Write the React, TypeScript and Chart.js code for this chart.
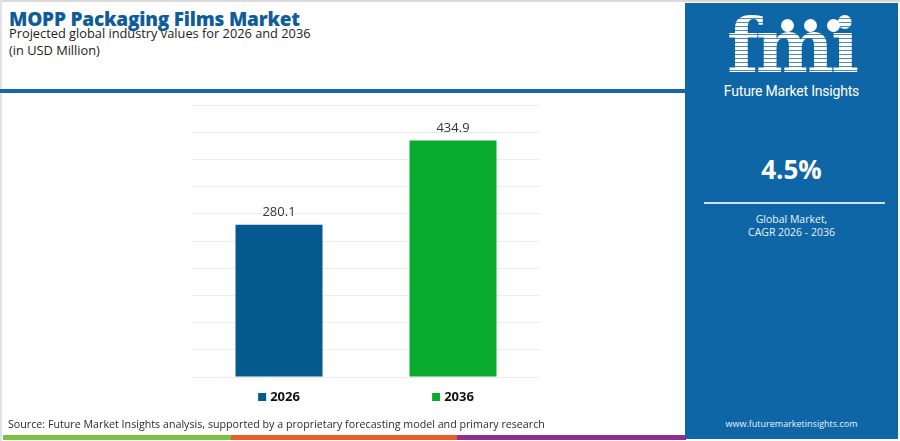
import { useEffect, useRef } from "react";
import { Chart, registerables } from "chart.js";

Chart.register(...registerables);

// chart data
const categories: string[] = ["2026", "2036"];
const marketValues: number[] = [280.1, 434.9];
const barColors: string[] = ["#04598f", "#08ab2e"];
const yAxisMax = 500;
const yAxisStep = 50;

const footerColors = ["#7cc142", "#ec5b2a", "#8f2f8f"];

const sansFont = "'Open Sans', 'DejaVu Sans', sans-serif";

const valueLabels = {
  id: "valueLabels",
  afterDatasetsDraw(chart: any) {
    const ctx = chart.ctx;
    const meta = chart.getDatasetMeta(0);
    ctx.save();
    ctx.font = `13px ${sansFont}`;
    ctx.fillStyle = "#333333";
    ctx.textAlign = "center";
    ctx.textBaseline = "middle";
    meta.data.forEach((bar: any, i: number) => {
      ctx.fillText(marketValues[i].toFixed(1), bar.x, bar.y - 12);
    });
    ctx.restore();
  },
};

const bottomLegend = {
  id: "bottomLegend",
  afterDraw(chart: any) {
    const ctx = chart.ctx;
    const xScale = chart.scales.x;
    const y = chart.chartArea.bottom + 20;
    ctx.save();
    ctx.font = `bold 13px ${sansFont}`;
    ctx.textBaseline = "middle";
    ctx.textAlign = "left";
    categories.forEach((cat, i) => {
      const cx = xScale.getPixelForValue(i);
      const tw = ctx.measureText(cat).width;
      const box = 8;
      const gap = 4;
      const start = cx - (box + gap + tw) / 2;
      ctx.fillStyle = barColors[i];
      ctx.fillRect(start, y - box / 2, box, box);
      ctx.fillStyle = "#111111";
      ctx.fillText(cat, start + box + gap, y + 0.5);
    });
    ctx.restore();
  },
};

function BarChart() {
  const canvasRef = useRef<HTMLCanvasElement | null>(null);

  useEffect(() => {
    if (!canvasRef.current) return;
    const chart = new Chart(canvasRef.current, {
      type: "bar",
      data: {
        labels: categories,
        datasets: [
          {
            label: "Market value",
            data: marketValues,
            backgroundColor: barColors,
            borderWidth: 0,
            barPercentage: 0.5,
            categoryPercentage: 1,
          },
        ],
      },
      options: {
        animation: false,
        responsive: true,
        maintainAspectRatio: false,
        layout: { padding: { left: 12, right: 12, top: 15, bottom: 43 } },
        plugins: {
          legend: { display: false },
          tooltip: { enabled: false },
        },
        scales: {
          x: { display: false },
          y: {
            display: true,
            min: 0,
            max: yAxisMax,
            ticks: { display: false, stepSize: yAxisStep },
            grid: { color: "#ececec", lineWidth: 1, drawTicks: false },
            border: { display: false },
          },
        },
      } as any,
      plugins: [valueLabels, bottomLegend],
    });
    return () => chart.destroy();
  }, []);

  return (
    <div style={{ position: "absolute", left: 180, top: 90, width: 372, height: 330 }}>
      <canvas ref={canvasRef} />
    </div>
  );
}

export default function App() {
  return (
    <div
      style={{
        position: "fixed",
        left: 0,
        top: 0,
        width: 900,
        height: 441,
        background: "#ffffff",
        overflow: "hidden",
        fontFamily: sansFont,
      }}
    >
      {/* frame */}
      <div style={{ position: "absolute", left: 0, top: 0, width: 900, height: 2, background: "#d9d9d9" }} />
      <div style={{ position: "absolute", left: 0, top: 0, width: 2, height: 441, background: "#e2e2e2" }} />

      {/* header */}
      <div
        style={{
          position: "absolute",
          left: 9,
          top: 6,
          fontSize: 19,
          fontWeight: 800,
          color: "#0f5d98",
          letterSpacing: -0.2,
          whiteSpace: "nowrap",
        }}
      >
        MOPP Packaging Films Market
      </div>
      <div
        style={{
          position: "absolute",
          left: 9,
          top: 25,
          fontSize: 12.8,
          color: "#222",
          whiteSpace: "nowrap",
          lineHeight: "17px",
        }}
      >
        Projected global industry values for 2026 and 2036
        <br />
        (in USD Million)
      </div>
      <div style={{ position: "absolute", left: 0, top: 89, width: 686, height: 4, background: "#1766a6" }} />

      <BarChart />

      {/* source + footer stripe */}
      <div
        style={{
          position: "absolute",
          left: 8,
          top: 417,
          fontSize: 10.7,
          color: "#2b2b2b",
          whiteSpace: "nowrap",
        }}
      >
        Source: Future Market Insights analysis, supported by a proprietary forecasting model and primary research
      </div>
      <div style={{ position: "absolute", left: 3, top: 435, width: 228, height: 5, background: footerColors[0] }} />
      <div style={{ position: "absolute", left: 231, top: 435, width: 226, height: 5, background: footerColors[1] }} />
      <div style={{ position: "absolute", left: 457, top: 435, width: 229, height: 5, background: footerColors[2] }} />

      {/* right panel */}
      <div
        style={{
          position: "absolute",
          left: 685,
          top: 3,
          width: 213,
          height: 436,
          background: "#0f66a6",
          color: "#ffffff",
          textAlign: "center",
        }}
      >
        <div style={{ position: "absolute", left: 0, right: 0, top: 8, height: 72 }}>
          <div
            style={{
              position: "absolute",
              left: 0,
              right: 0,
              top: -8,
              fontFamily: "'DejaVu Serif', serif",
              fontWeight: 700,
              fontSize: 74,
              letterSpacing: -3,
              lineHeight: "86px",
              color: "transparent",
              backgroundImage:
                "repeating-linear-gradient(to bottom, #ffffff 0px, #ffffff 3px, rgba(255,255,255,0.25) 3px, rgba(255,255,255,0.25) 4px)",
              WebkitBackgroundClip: "text",
              backgroundClip: "text",
            }}
          >
            fmi
          </div>
          {[0, 1, 2].map((k) => (
            <div
              key={k}
              style={{
                position: "absolute",
                left: 96 + k * 23,
                top: 8,
                width: 13,
                height: 13,
                borderRadius: "50%",
                background: "#ffffff",
              }}
            />
          ))}
        </div>
        <div
          style={{
            position: "absolute",
            left: 0,
            right: 0,
            top: 80,
            fontFamily: "Roboto, sans-serif",
            fontSize: 14,
            letterSpacing: -0.2,
          }}
        >
          Future Market Insights
        </div>
        <div style={{ position: "absolute", left: 0, right: 0, top: 148, fontSize: 26, fontWeight: 700 }}>4.5%</div>
        <div style={{ position: "absolute", left: 19, width: 181, top: 199, height: 2, background: "#cfe1f1" }} />
        <div style={{ position: "absolute", left: 0, right: 0, top: 210, fontSize: 10.5, lineHeight: "13px", color: "#eaf2fa" }}>
          Global Market,
          <br />
          CAGR 2026 - 2036
        </div>
        <div style={{ position: "absolute", left: 0, right: 0, top: 414, fontSize: 9, color: "#eaf2fa" }}>
          www.futuremarketinsights.com
        </div>
      </div>
    </div>
  );
}
